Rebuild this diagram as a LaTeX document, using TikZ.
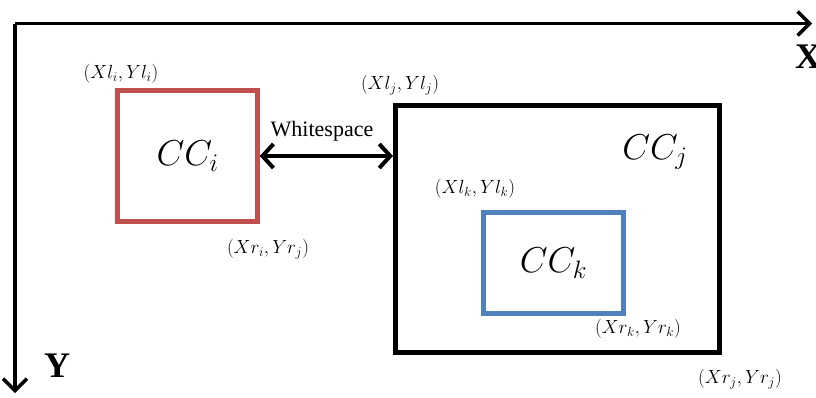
\RequirePackage{fix-cm}
\documentclass[tikz,border=0pt]{standalone}
\usepackage{fontspec}
\newfontfamily\tnr{Liberation Serif}
\usetikzlibrary{arrows.meta}
\definecolor{cred}{RGB}{192,80,77}
\definecolor{cblue}{RGB}{79,129,189}
\begin{document}
\begin{tikzpicture}[x=1pt,y=-1pt,
  axis/.style={line width=3.5pt,-{Straight Barb[length=12pt,width=24pt,line width=3.5pt]}},
  gap/.style={line width=4pt,{Straight Barb[length=11pt,width=24pt,line width=4pt]}-{Straight Barb[length=11pt,width=24pt,line width=4pt]}},
  ccbox/.style={draw,line width=4.5pt,inner sep=0pt,font=\fontsize{36}{40}\selectfont},
  coord/.style={inner sep=0pt,font=\fontsize{19}{22}\selectfont},
  axlab/.style={inner sep=0pt,font=\tnr\bfseries\fontsize{36}{40}\selectfont},
  ]
\useasboundingbox (0,0) rectangle (816,397);
\coordinate (o) at (15,23.5);
\coordinate (xe) at (812,23.5);
\coordinate (ye) at (15,393);
\draw[axis] (o) -- (xe);
\draw[axis] (o) -- (ye);
\node[axlab] (xl) at (808,57) {X};
\node[axlab] (yl) at (57,366) {Y};

\node[ccbox,draw=cred,minimum width=140pt,minimum height=131pt] (ci) at (187.5,156) {$CC_i$};
\node[ccbox,draw=black,line width=5pt,minimum width=324pt,minimum height=246.5pt] (cj) at (557.5,228.75) {};
\node[ccbox,draw=cblue,minimum width=140pt,minimum height=101pt] (ck) at (553.5,263) {$CC_k$};
\node[inner sep=0pt,font=\fontsize{36}{40}\selectfont] (cjl) at (655,152) {$CC_j$};

\draw[gap] (ci.east) -- (cj.west |- ci.east);
\node[inner sep=0pt,font=\tnr\fontsize{22}{26}\selectfont] (ws) at (322,131) {Whitespace};

\node[coord] (li) at (121,74) {$(Xl_i,Yl_i)$};
\node[coord] (lj) at (400,85) {$(Xl_j,Yl_j)$};
\node[coord] (lk) at (475,189) {$(Xl_k,Yl_k)$};
\node[coord] (ri) at (268,249) {$(Xr_i,Yr_j)$};
\node[coord] (rk) at (638,329) {$(Xr_k,Yr_k)$};
\node[coord] (rj) at (740,379) {$(Xr_j,Yr_j)$};
\end{tikzpicture}
\end{document}
